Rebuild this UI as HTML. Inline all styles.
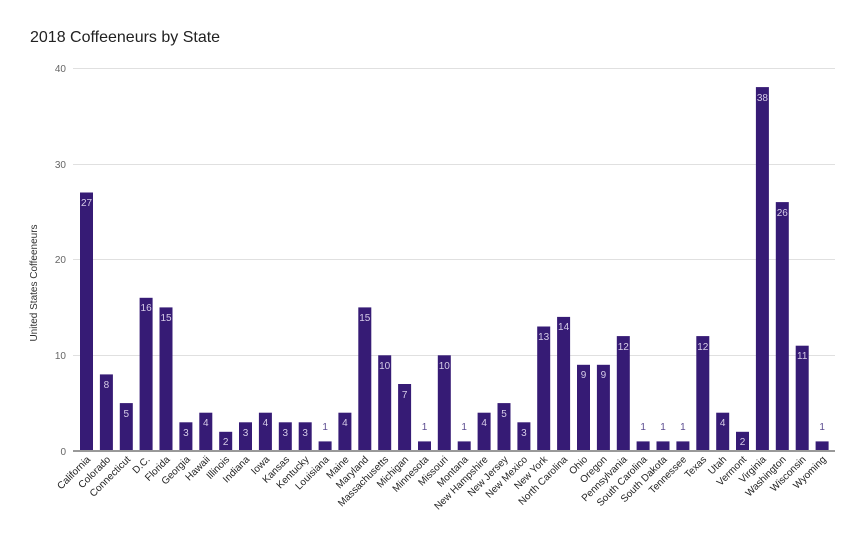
<!DOCTYPE html>
<html><head><style>body{margin:0;background:#fff}svg{display:block;font-family:"Liberation Sans",sans-serif}</style></head><body>
<svg width="862" height="533" viewBox="0 0 862 533">
<text x="30" y="42" font-size="16" fill="#222">2018 Coffeeneurs by State</text>
<g stroke="#e0e0e0" stroke-width="1">
<line x1="73" x2="835" y1="68.5" y2="68.5"/><line x1="73" x2="835" y1="164.5" y2="164.5"/><line x1="73" x2="835" y1="259.5" y2="259.5"/><line x1="73" x2="835" y1="355.5" y2="355.5"/></g>
<g font-size="10" fill="#666" text-anchor="end"><text x="66" y="72">40</text><text x="66" y="168">30</text><text x="66" y="263">20</text><text x="66" y="359">10</text><text x="66" y="455">0</text></g>
<text transform="translate(37,283) rotate(-90)" font-size="10" fill="#333" text-anchor="middle">United States Coffeeneurs</text>
<g fill="#361b75">
<rect x="80" y="192.5" width="13" height="258.5"/><rect x="99.9" y="374.4" width="13" height="76.6"/><rect x="119.8" y="403.1" width="13" height="47.9"/><rect x="139.6" y="297.8" width="13" height="153.2"/><rect x="159.5" y="307.4" width="13" height="143.6"/><rect x="179.4" y="422.3" width="13" height="28.7"/><rect x="199.3" y="412.7" width="13" height="38.3"/><rect x="219.2" y="431.8" width="13" height="19.2"/><rect x="239" y="422.3" width="13" height="28.7"/><rect x="258.9" y="412.7" width="13" height="38.3"/><rect x="278.8" y="422.3" width="13" height="28.7"/><rect x="298.7" y="422.3" width="13" height="28.7"/><rect x="318.6" y="441.4" width="13" height="9.6"/><rect x="338.4" y="412.7" width="13" height="38.3"/><rect x="358.3" y="307.4" width="13" height="143.6"/><rect x="378.2" y="355.3" width="13" height="95.7"/><rect x="398.1" y="384" width="13" height="67"/><rect x="418" y="441.4" width="13" height="9.6"/><rect x="437.8" y="355.3" width="13" height="95.7"/><rect x="457.7" y="441.4" width="13" height="9.6"/><rect x="477.6" y="412.7" width="13" height="38.3"/><rect x="497.5" y="403.1" width="13" height="47.9"/><rect x="517.4" y="422.3" width="13" height="28.7"/><rect x="537.2" y="326.5" width="13" height="124.5"/><rect x="557.1" y="316.9" width="13" height="134.1"/><rect x="577" y="364.8" width="13" height="86.2"/><rect x="596.9" y="364.8" width="13" height="86.2"/><rect x="616.8" y="336.1" width="13" height="114.9"/><rect x="636.6" y="441.4" width="13" height="9.6"/><rect x="656.5" y="441.4" width="13" height="9.6"/><rect x="676.4" y="441.4" width="13" height="9.6"/><rect x="696.3" y="336.1" width="13" height="114.9"/><rect x="716.2" y="412.7" width="13" height="38.3"/><rect x="736" y="431.8" width="13" height="19.2"/><rect x="755.9" y="87.1" width="13" height="363.9"/><rect x="775.8" y="202.1" width="13" height="248.9"/><rect x="795.7" y="345.7" width="13" height="105.3"/><rect x="815.6" y="441.4" width="13" height="9.6"/>
</g>
<line x1="73" x2="835" y1="451" y2="451" stroke="#999" stroke-width="2"/>
<g font-size="10" fill="#d6cce8" text-anchor="middle">
<text x="86.5" y="206">27</text><text x="106.4" y="388">8</text><text x="126.3" y="417">5</text><text x="146.1" y="311">16</text><text x="166" y="321">15</text><text x="185.9" y="436">3</text><text x="205.8" y="426">4</text><text x="225.7" y="445">2</text><text x="245.5" y="436">3</text><text x="265.4" y="426">4</text><text x="285.3" y="436">3</text><text x="305.2" y="436">3</text><text x="344.9" y="426">4</text><text x="364.8" y="321">15</text><text x="384.7" y="369">10</text><text x="404.6" y="398">7</text><text x="444.3" y="369">10</text><text x="484.1" y="426">4</text><text x="504" y="417">5</text><text x="523.9" y="436">3</text><text x="543.7" y="340">13</text><text x="563.6" y="330">14</text><text x="583.5" y="378">9</text><text x="603.4" y="378">9</text><text x="623.3" y="350">12</text><text x="702.8" y="350">12</text><text x="722.7" y="426">4</text><text x="742.5" y="445">2</text><text x="762.4" y="101">38</text><text x="782.3" y="216">26</text><text x="802.2" y="359">11</text>
</g>
<g font-size="10" fill="#5b4b8f" text-anchor="middle">
<text x="325.1" y="430">1</text><text x="424.5" y="430">1</text><text x="464.2" y="430">1</text><text x="643.1" y="430">1</text><text x="663" y="430">1</text><text x="682.9" y="430">1</text><text x="822.1" y="430">1</text>
</g>
<g font-size="10" fill="#222" text-anchor="end">
<text transform="translate(91,460) rotate(-45)">California</text><text transform="translate(111,460) rotate(-45)">Colorado</text><text transform="translate(131,460) rotate(-45)">Connecticut</text><text transform="translate(150.5,460) rotate(-45)">D.C.</text><text transform="translate(170.5,460) rotate(-45)">Florida</text><text transform="translate(190.5,460) rotate(-45)">Georgia</text><text transform="translate(210.5,460) rotate(-45)">Hawaii</text><text transform="translate(230,460) rotate(-45)">Illinois</text><text transform="translate(250,460) rotate(-45)">Indiana</text><text transform="translate(270,460) rotate(-45)">Iowa</text><text transform="translate(290,460) rotate(-45)">Kansas</text><text transform="translate(309.5,460) rotate(-45)">Kentucky</text><text transform="translate(329.5,460) rotate(-45)">Louisiana</text><text transform="translate(349.5,460) rotate(-45)">Maine</text><text transform="translate(369,460) rotate(-45)">Maryland</text><text transform="translate(389,460) rotate(-45)">Massachusetts</text><text transform="translate(409,460) rotate(-45)">Michigan</text><text transform="translate(429,460) rotate(-45)">Minnesota</text><text transform="translate(448.5,460) rotate(-45)">Missouri</text><text transform="translate(468.5,460) rotate(-45)">Montana</text><text transform="translate(488.5,460) rotate(-45)">New Hampshire</text><text transform="translate(508.5,460) rotate(-45)">New Jersey</text><text transform="translate(528,460) rotate(-45)">New Mexico</text><text transform="translate(548,460) rotate(-45)">New York</text><text transform="translate(568,460) rotate(-45)">North Carolina</text><text transform="translate(588,460) rotate(-45)">Ohio</text><text transform="translate(607.5,460) rotate(-45)">Oregon</text><text transform="translate(627.5,460) rotate(-45)">Pennsylvania</text><text transform="translate(647.5,460) rotate(-45)">South Carolina</text><text transform="translate(667.5,460) rotate(-45)">South Dakota</text><text transform="translate(687,460) rotate(-45)">Tennessee</text><text transform="translate(707,460) rotate(-45)">Texas</text><text transform="translate(727,460) rotate(-45)">Utah</text><text transform="translate(747,460) rotate(-45)">Vermont</text><text transform="translate(766.5,460) rotate(-45)">Virginia</text><text transform="translate(786.5,460) rotate(-45)">Washington</text><text transform="translate(806.5,460) rotate(-45)">Wisconsin</text><text transform="translate(826.5,460) rotate(-45)">Wyoming</text>
</g>
</svg>
</body></html>
